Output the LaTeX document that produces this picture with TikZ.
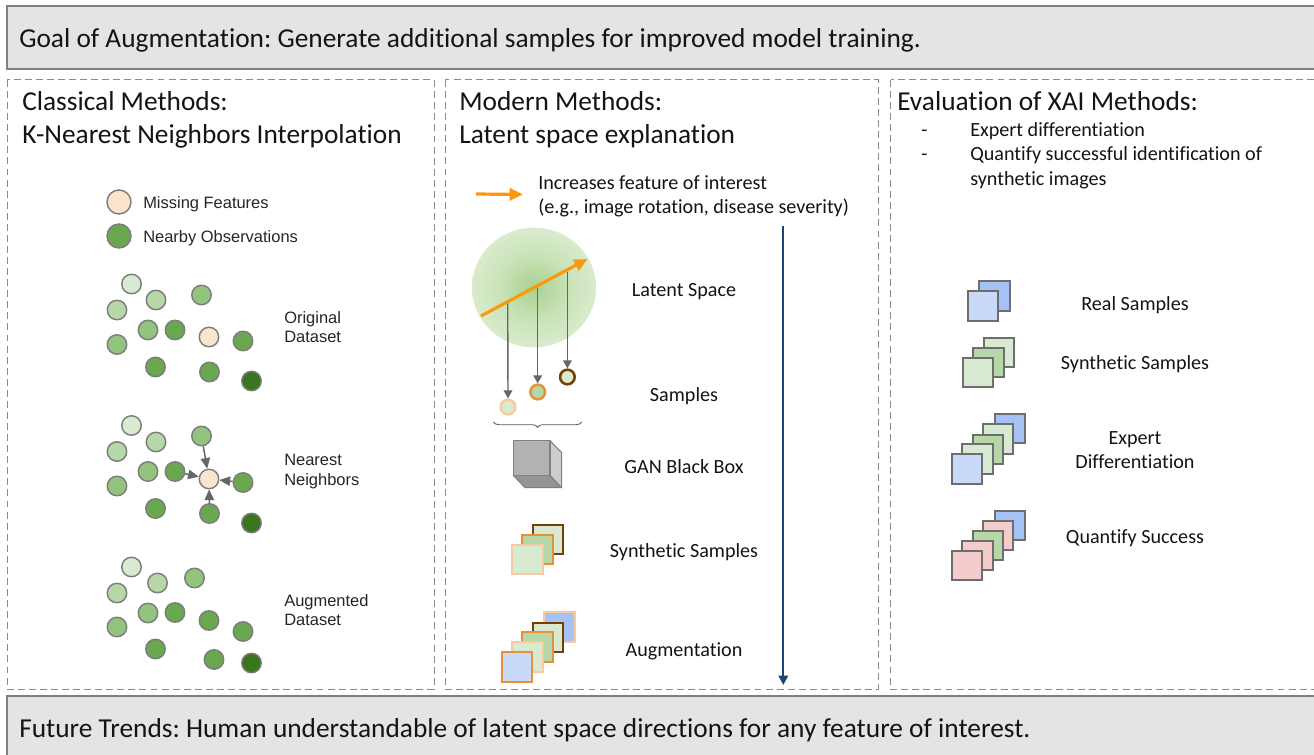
\documentclass[tikz,border=0pt]{standalone}
\usepackage{fontspec}
\setmainfont[Ligatures=CommonOff]{Carlito}
\newfontfamily\arialf{Liberation Sans}
\usetikzlibrary{arrows.meta,shapes.geometric,decorations.pathreplacing}
\definecolor{lone}{HTML}{D9EAD3}
\definecolor{ltwo}{HTML}{B6D7A8}
\definecolor{lthree}{HTML}{93C47D}
\definecolor{lfour}{HTML}{6AA84F}
\definecolor{ldark}{HTML}{38761D}
\definecolor{peach}{HTML}{FCE5CD}
\definecolor{peachline}{HTML}{F9CB9C}
\definecolor{midorange}{HTML}{E69138}
\definecolor{brownline}{HTML}{783F04}
\definecolor{blueA}{HTML}{A4C2F4}
\definecolor{blueB}{HTML}{C9DAF8}
\definecolor{pinkA}{HTML}{F4CCCC}
\definecolor{greyline}{HTML}{666666}
\definecolor{arrowor}{HTML}{F79A0E}
\definecolor{navy}{HTML}{1B4472}
\pgfdeclareradialshading{latentshade}{\pgfpoint{0bp}{0bp}}{rgb(0bp)=(0.66,0.82,0.56); rgb(14bp)=(0.79,0.89,0.72); rgb(32bp)=(0.89,0.94,0.85); rgb(50bp)=(0.89,0.94,0.85)}
\tikzset{
  bar/.style={draw=black!50,fill=black!10.5,line width=0.9pt},
  panel/.style={draw=black!46,line width=0.75pt,dash pattern=on 5.2pt off 3.1pt},
  barlabel/.style={anchor=base west,inner sep=0pt,font=\fontsize{20.52}{24}\selectfont\frenchspacing,text=black!92},
  headlabel/.style={anchor=base west,inner sep=0pt,font=\fontsize{20.5}{24}\selectfont\frenchspacing,text=black!92},
  sublabel/.style={anchor=base west,inner sep=0pt,font=\fontsize{15.1}{18}\selectfont\frenchspacing,text=black!92},
  midlabel/.style={anchor=base,inner sep=0pt,font=\fontsize{15.1}{18}\selectfont\frenchspacing,text=black!92},
  arlabel/.style={anchor=base west,inner sep=0pt,font=\arialf\fontsize{12.35}{15}\selectfont,text=black!85},
  dot/.style={circle,draw=greyline!85,line width=1.1pt,minimum size=14.6pt,inner sep=0pt},
  legdot/.style={dot,minimum size=18pt},
  sampledot/.style={circle,line width=1.9pt,minimum size=11pt,inner sep=0pt},
  sq/.style={rectangle,line width=1.5pt,minimum width=22.8pt,minimum height=21.8pt,inner sep=0pt},
  gsq/.style={sq,draw=greyline!95},
  pointer/.style={draw=greyline,line width=1.1pt,-{Triangle[length=8pt,width=7pt]},fill=greyline},
  drop/.style={draw=greyline,line width=1.05pt,-{Triangle[length=6pt,width=6.5pt]},fill=greyline},
  oarrow/.style={draw=arrowor,line width=2.4pt,-{Triangle[length=10pt,width=9pt]}},
}
\begin{document}
\begin{tikzpicture}[x=0.75pt,y=-0.75pt]
\clip (0,0) rectangle (1314,755);
\fill[white] (0,0) rectangle (1314,755);
% bars and panels
\draw[bar] (7,6) rectangle (1340,69);
\draw[bar] (7,696) rectangle (1340,790);
\draw[panel] (7,80) rectangle (434,689);
\draw[panel] (445,80) rectangle (878.5,689);
\draw[panel] (890.5,80) rectangle (1340,689);
\node[barlabel] (goal) at (19,47.5) {Goal of Augmentation: Generate additional samples for improved model training.};
\node[barlabel] (future) at (19,737.5) {Future Trends: Human understandable of latent space directions for any feature of interest.};
\node[headlabel] (h1a) at (22,110.7) {Classical Methods:};
\node[headlabel] (h1b) at (22,143.3) {K-Nearest Neighbors Interpolation};
\node[headlabel] (h2a) at (459,110.7) {Modern Methods:};
\node[headlabel] (h2b) at (459,143.3) {Latent space explanation};
\node[headlabel] (h3a) at (897,110.7) {Evaluation of XAI Methods:};
\node[sublabel] (d1) at (921,137) {-};
\node[sublabel] (e1) at (970,137) {Expert differentiation};
\node[sublabel] (d2) at (921,161) {-};
\node[sublabel] (e2) at (970,161) {Quantify successful identification of};
\node[sublabel] (e3) at (970,186) {synthetic images};
% legend
\node[legdot,fill=peach] (legm) at (119,202) {};
\node[legdot,fill=lfour] (legn) at (119,236) {};
\node[arlabel] (tm) at (143,208.3) {Missing Features};
\node[arlabel] (tn) at (143,243) {Nearby Observations};
% dataset 1
\node[dot,fill=lone] (a1) at (131.5,284) {};
\node[dot,fill=ltwo] (a2) at (156,300) {};
\node[dot,fill=lthree] (a3) at (201.5,295) {};
\node[dot,fill=ltwo] (a4) at (117,310) {};
\node[dot,fill=lthree] (a5) at (148,330) {};
\node[dot,fill=lfour] (a6) at (175,330) {};
\node[dot,fill=peach] (a7) at (209,337) {};
\node[dot,fill=lfour] (a8) at (243,341) {};
\node[dot,fill=lthree] (a9) at (117,344.5) {};
\node[dot,fill=lfour] (a10) at (155.5,367) {};
\node[dot,fill=lfour] (a11) at (209.5,372) {};
\node[dot,fill=ldark] (a12) at (251.5,381) {};
\node[arlabel] (ta1) at (284,323.3) {Original};
\node[arlabel] (ta2) at (284,342.7) {Dataset};
% dataset 2
\node[dot,fill=lone] (b1) at (131.5,425.5) {};
\node[dot,fill=ltwo] (b2) at (156,442) {};
\node[dot,fill=lthree] (b3) at (201.5,436) {};
\node[dot,fill=ltwo] (b4) at (117,451.5) {};
\node[dot,fill=lthree] (b5) at (148,471.5) {};
\node[dot,fill=lfour] (b6) at (175,471.5) {};
\node[dot,fill=peach] (b7) at (209,479) {};
\node[dot,fill=lfour] (b8) at (243,482.5) {};
\node[dot,fill=lthree] (b9) at (117,486) {};
\node[dot,fill=lfour] (b10) at (155.5,508.5) {};
\node[dot,fill=lfour] (b11) at (209.5,513.5) {};
\node[dot,fill=ldark] (b12) at (251.5,523) {};
\draw[pointer] (b3) -- (b7);
\draw[pointer] (b6) -- (b7);
\draw[pointer] (b8) -- (b7);
\draw[pointer] (b11) -- (b7);
\node[arlabel] (tb1) at (284,465) {Nearest};
\node[arlabel] (tb2) at (284,485) {Neighbors};
% dataset 3
\node[dot,fill=lone] (c1) at (131.5,567) {};
\node[dot,fill=ltwo] (c2) at (157.5,583) {};
\node[dot,fill=lthree] (c3) at (194.5,578) {};
\node[dot,fill=ltwo] (c4) at (117,593) {};
\node[dot,fill=lthree] (c5) at (148,613) {};
\node[dot,fill=lfour] (c6) at (175,612.5) {};
\node[dot,fill=lfour] (c7) at (209,620.5) {};
\node[dot,fill=lfour] (c8) at (243,631.5) {};
\node[dot,fill=lthree] (c9) at (117,627) {};
\node[dot,fill=lfour] (c10) at (155.5,649) {};
\node[dot,fill=lfour] (c11) at (214,659.5) {};
\node[dot,fill=ldark] (c12) at (251.5,663) {};
\node[arlabel] (tc1) at (284,606) {Augmented};
\node[arlabel] (tc2) at (284,625) {Dataset};
% middle column
\coordinate (oa) at (476,194);
\coordinate (ob) at (523,194.5);
\draw[oarrow] (oa) -- (ob);
\node[sublabel] (ti1) at (538,190) {Increases feature of interest};
\node[sublabel] (ti2) at (538,214) {(e.g., image rotation, disease severity)};
\node[ellipse,shading=latentshade,minimum width=93pt,minimum height=89.7pt,inner sep=0pt] (latent) at (534,287.5) {};
\coordinate (dirs) at (481,316);
\coordinate (dire) at (587.5,259);
\coordinate (p1) at (507.7,303);
\coordinate (p2) at (537.7,287);
\coordinate (p3) at (567.4,272);
\node[sampledot,draw=peachline,fill=lone] (s1) at (508,407) {};
\node[sampledot,draw=midorange,fill=ltwo] (s2) at (537.7,392) {};
\node[sampledot,draw=brownline,fill=lone] (s3) at (567.4,377) {};
\draw[drop] (p1) -- (s1.north);
\draw[drop] (p2) -- (s2.north);
\draw[drop] (p3) -- (s3.north);
\draw[oarrow] (dirs) -- (dire);
\coordinate (bl) at (493.5,422);
\coordinate (br) at (581.7,422);
\draw[draw=black!65,line width=0.6pt,decorate,decoration={brace,mirror,amplitude=4pt}] (bl) -- (br);
% cube
\draw[draw=black!50,fill=black!42,line width=0.8pt,line join=round] (513.3,475.3) -- (550,475.3) -- (561.7,487.7) -- (525,487.7) -- cycle;
\draw[draw=black!50,fill=black!20,line width=0.8pt,line join=round] (550,440.7) -- (561.7,452.7) -- (561.7,487.7) -- (550,475.3) -- cycle;
\draw[draw=black!50,fill=black!30,line width=0.8pt,line join=round] (513.3,440.7) rectangle (550,475.3);
% synthetic samples
\node[sq,draw=brownline,fill=lone] (m3) at (547.8,539.5) {};
\node[sq,draw=midorange,fill=ltwo] (m2) at (537.5,549.3) {};
\node[sq,draw=peachline,fill=lone] (m1) at (527.3,559.2) {};
% augmentation
\node[sq,draw=peachline,fill=blueA] (g5) at (559.5,627) {};
\node[sq,draw=brownline,fill=lone] (g4) at (547.8,637.2) {};
\node[sq,draw=midorange,fill=ltwo] (g3) at (537.5,647) {};
\node[sq,draw=peachline,fill=lone] (g2) at (527.3,657) {};
\node[sq,draw=midorange,fill=blueB] (g1) at (517,667) {};
\node[midlabel] (tl) at (684,297) {Latent Space};
\node[midlabel] (ts) at (684,401.7) {Samples};
\node[midlabel] (tg) at (684,473.7) {GAN Black Box};
\node[midlabel] (tsy) at (684,557) {Synthetic Samples};
\node[midlabel] (tau) at (684,656.5) {Augmentation};
\coordinate (vs) at (783.3,226);
\coordinate (ve) at (783.3,685);
\draw[draw=navy,line width=1.6pt,-{Triangle[length=7pt,width=7pt]}] (vs) -- (ve);
% right column
\node[gsq,fill=blueA] (r2) at (994.5,296) {};
\node[gsq,fill=blueB] (r1) at (982.7,306) {};
\node[gsq,fill=lone] (y3) at (999,352.5) {};
\node[gsq,fill=ltwo] (y2) at (988.5,362.5) {};
\node[gsq,fill=lone] (y1) at (978.2,372.7) {};
\node[gsq,fill=blueA] (x5) at (1009.8,428.7) {};
\node[gsq,fill=lone] (x4) at (998.2,439) {};
\node[gsq,fill=ltwo] (x3) at (987.8,449.2) {};
\node[gsq,fill=lone] (x2) at (977.5,459) {};
\node[gsq,fill=blueB] (x1) at (967,469) {};
\node[gsq,fill=blueA] (q5) at (1009.8,525.7) {};
\node[gsq,fill=pinkA] (q4) at (998.2,535.7) {};
\node[gsq,fill=ltwo] (q3) at (987.8,545.5) {};
\node[gsq,fill=pinkA] (q2) at (977.5,555.5) {};
\node[gsq,fill=pinkA] (q1) at (967,565.5) {};
\node[midlabel] (tr1) at (1135,311) {Real Samples};
\node[midlabel] (tr2) at (1135,370) {Synthetic Samples};
\node[midlabel] (tr3) at (1135,445) {Expert};
\node[midlabel] (tr4) at (1135,469) {Differentiation};
\node[midlabel] (tr5) at (1135,543.5) {Quantify Success};
\end{tikzpicture}
\end{document}
